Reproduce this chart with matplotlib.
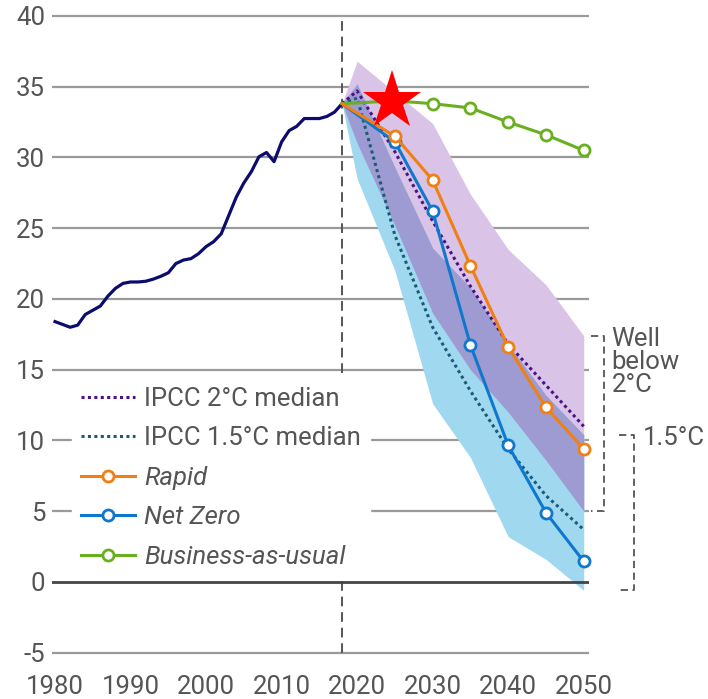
import numpy as np
import matplotlib
matplotlib.use("Agg")
import matplotlib.pyplot as plt
from matplotlib.lines import Line2D

plt.rcParams['font.family'] = ['Roboto', 'DejaVu Sans']
plt.rcParams['axes.unicode_minus'] = False

# historical emissions (Gt CO2), 1980-2018
hist_years = list(range(1980, 2019))
hist_vals = [18.4, 18.2, 18.0, 18.15, 18.9, 19.2, 19.5, 20.2, 20.75, 21.1,
             21.2, 21.2, 21.25, 21.4, 21.6, 21.85, 22.5, 22.75, 22.85, 23.2,
             23.7, 24.05, 24.6, 25.9, 27.2, 28.2, 29.0, 30.05, 30.35, 29.7,
             31.1, 31.9, 32.2, 32.75, 32.75, 32.75, 32.9, 33.2, 33.8]

# scenarios
scen_years = [2018, 2025, 2030, 2035, 2040, 2045, 2050]
rapid = [33.8, 31.5, 28.4, 22.35, 16.6, 12.35, 9.4]
net_zero = [33.8, 31.1, 26.2, 16.75, 9.65, 4.9, 1.45]
bau = [33.8, 34.0, 33.8, 33.5, 32.5, 31.6, 30.5]

# IPCC ranges and medians
ipcc_years = [2018, 2020, 2025, 2030, 2035, 2040, 2045, 2050]
p2_upper = [33.8, 36.8, 34.6, 32.4, 27.4, 23.5, 21.0, 17.4]
p2_lower = [33.8, 31.0, 25.2, 19.0, 15.0, 12.0, 8.6, 5.0]
p15_upper = [33.8, 35.2, 29.3, 23.6, 20.8, 16.8, 13.2, 10.4]
p15_lower = [33.8, 28.5, 22.0, 12.6, 8.8, 3.2, 1.6, -0.6]
med_2c = [33.8, 34.7, 30.4, 25.5, 20.9, 16.8, 13.9, 11.0]
med_15c = [33.8, 34.2, 24.5, 18.0, 13.5, 9.4, 6.1, 3.7]

star_year = 2025
today = 2018

GRAY = '#555555'
FS = 18.5
fig = plt.figure(figsize=(7.08, 6.99), dpi=100)
ax = fig.add_axes([52/708, 0.0561, 537/708, 0.9312])
ax.set_xlim(1979.6, 2050.7)
ax.set_ylim(-5.5, 40.5)

yt = list(range(-5, 45, 5))
for v in yt:
    if v == 0:
        ax.axhline(v, color='#444444', lw=2.0, zorder=6)
    else:
        ax.axhline(v, color='#9a9a9a', lw=1.6, zorder=0)

ax.plot([today, today], [-5, 40], color=GRAY, lw=1.4, ls=(0, (5, 3)), zorder=1)

# bands
ax.fill_between(ipcc_years, p2_lower, p2_upper, color='#d9c3e6', lw=0, zorder=2)
ax.fill_between(ipcc_years, p15_lower, p15_upper, color='#a0d8f0', lw=0, zorder=2)
ax.fill_between(ipcc_years, p2_lower, p15_upper, color='#9e9bd3', lw=0, zorder=3)

ax.plot(hist_years, hist_vals, color='#0c0c6e', lw=2.3, zorder=7)

ax.plot(ipcc_years, med_2c, color='#4b1283', lw=2.2, ls=(0, (1, 1.1)), zorder=8)
ax.plot(ipcc_years, med_15c, color='#1b5b78', lw=2.2, ls=(0, (1, 1.1)), zorder=8)

mk = dict(marker='o', ms=8, mfc='white', mew=2.0, lw=2.2, clip_on=False, markevery=list(range(1, 7)))
ax.plot(scen_years, bau, color='#6aaf1f', zorder=9, **mk)
ax.plot(scen_years, net_zero, color='#0f78cc', zorder=10, **mk)
ax.plot(scen_years, rapid, color='#f07f14', zorder=11, **mk)

ax.plot(star_year - 0.4, bau[1], marker='*', ms=44, color='#ff0000', mew=0, zorder=12, clip_on=False)

# brackets
def bracket(x0, x1, top, bot):
    ax.plot([x0, x1, x1, x0], [top, top, bot, bot], color=GRAY, lw=1.3,
            ls=(0, (4, 2.5)), clip_on=False, zorder=5)

bracket(2050.95, 2052.7, p2_upper[-1], p2_lower[-1])
bracket(2054.7, 2056.7, p15_upper[-1], p15_lower[-1])
ax.text(2053.7, p2_upper[-1] + 0.6, 'Well\nbelow\n2°C', ha='left', va='top', fontsize=FS,
        color=GRAY, linespacing=0.95, clip_on=False)
ax.text(2057.8, p15_upper[-1] - 0.2, '1.5°C', ha='left', va='center', fontsize=FS,
        color=GRAY, clip_on=False)

for s in ax.spines.values():
    s.set_visible(False)
ax.set_yticks(yt)
ax.set_yticklabels([str(v) for v in yt])
ax.set_xticks(range(1980, 2051, 10))
ax.tick_params(axis='both', length=0, labelsize=FS, labelcolor=GRAY)
ax.tick_params(axis='y', pad=5)
ax.tick_params(axis='x', pad=11)

handles = [
    Line2D([], [], color='#4b1283', lw=2.2, ls=(0, (1, 1.1))),
    Line2D([], [], color='#1b5b78', lw=2.2, ls=(0, (1, 1.1))),
    Line2D([], [], color='#f07f14', lw=2.2, marker='o', ms=8, mfc='white', mew=2.0),
    Line2D([], [], color='#0f78cc', lw=2.2, marker='o', ms=8, mfc='white', mew=2.0),
    Line2D([], [], color='#6aaf1f', lw=2.2, marker='o', ms=8, mfc='white', mew=2.0),
]
labels = ['IPCC 2°C median', 'IPCC 1.5°C median', 'Rapid', 'Net Zero', 'Business-as-usual']
leg = fig.legend(handles, labels, loc='upper left', bbox_to_anchor=(72/708, 1 - 378/699),
                 frameon=True, fancybox=False, framealpha=1, edgecolor='white',
                 fontsize=FS, handlelength=2.1, handletextpad=0.35, labelspacing=0.6,
                 borderpad=0.35, borderaxespad=0)
leg.set_zorder(20)
for i, t in enumerate(leg.get_texts()):
    t.set_color(GRAY)
    if i >= 2:
        t.set_fontstyle('italic')

fig.savefig('out.png', dpi=100)
